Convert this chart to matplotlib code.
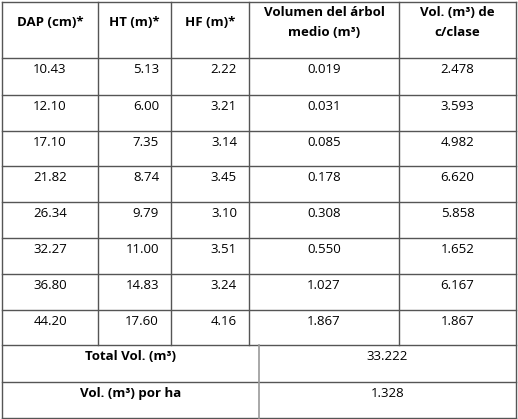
import matplotlib.pyplot as plt

headers = ["DAP (cm)*", "HT (m)*", "HF (m)*", "Volumen del árbol\nmedio (m³)", "Vol. (m³) de\nc/clase"]
dap = ["10.43", "12.10", "17.10", "21.82", "26.34", "32.27", "36.80", "44.20"]
ht = ["5.13", "6.00", "7.35", "8.74", "9.79", "11.00", "14.83", "17.60"]
hf = ["2.22", "3.21", "3.14", "3.45", "3.10", "3.51", "3.24", "4.16"]
vol_medio = ["0.019", "0.031", "0.085", "0.178", "0.308", "0.550", "1.027", "1.867"]
vol_clase = ["2.478", "3.593", "4.982", "6.620", "5.858", "1.652", "6.167", "1.867"]
summary_labels = ["Total Vol. (m³)", "Vol. (m³) por ha"]
summary_values = ["33.222", "1.328"]

W, H = 518, 419
fig = plt.figure(figsize=(W / 100, H / 100), dpi=100)
ax = fig.add_axes([0, 0, 1, 1])
ax.set_xlim(0, W)
ax.set_ylim(H, 0)
ax.axis("off")

xs = [2, 98, 171, 249, 399, 516]
ys = [2, 58, 95, 131, 166, 202, 238, 274, 310, 345, 382, 418]
split = 259
lc = "#555555"
lw = 1.0
fs = 9.5
font = "Open Sans"

# horizontal lines
for y in ys:
    ax.plot([xs[0], xs[-1]], [y, y], color=lc, lw=lw)
# vertical lines
for x in [xs[0], xs[-1]]:
    ax.plot([x, x], [ys[0], ys[-1]], color=lc, lw=lw)
for x in xs[1:-1]:
    ax.plot([x, x], [ys[0], ys[9]], color=lc, lw=lw)
ax.plot([split, split], [ys[9], ys[-1]], color="#999999", lw=1.2)

# header
for i, h in enumerate(headers):
    cx = (xs[i] + xs[i + 1]) / 2
    ax.text(cx, 23, h, ha="center", va="center", fontsize=fs, fontweight="bold",
            family=font, linespacing=1.7)

cols = [dap, ht, hf, vol_medio, vol_clase]
aligns = ["center", "right", "right", "center", "center"]
for r in range(len(dap)):
    y = ys[1 + r] + 5
    for c, col in enumerate(cols):
        if aligns[c] == "right":
            x = xs[c + 1] - 12
        else:
            x = (xs[c] + xs[c + 1]) / 2
        ax.text(x, y, col[r], ha=aligns[c], va="top", fontsize=fs, family=font)

for k in range(2):
    y = ys[9 + k] + 5
    ax.text((xs[0] + split) / 2, y, summary_labels[k], ha="center", va="top",
            fontsize=fs, fontweight="bold", family=font)
    ax.text((split + xs[-1]) / 2, y, summary_values[k], ha="center", va="top",
            fontsize=fs, family=font)

fig.savefig("out.png", dpi=100)
